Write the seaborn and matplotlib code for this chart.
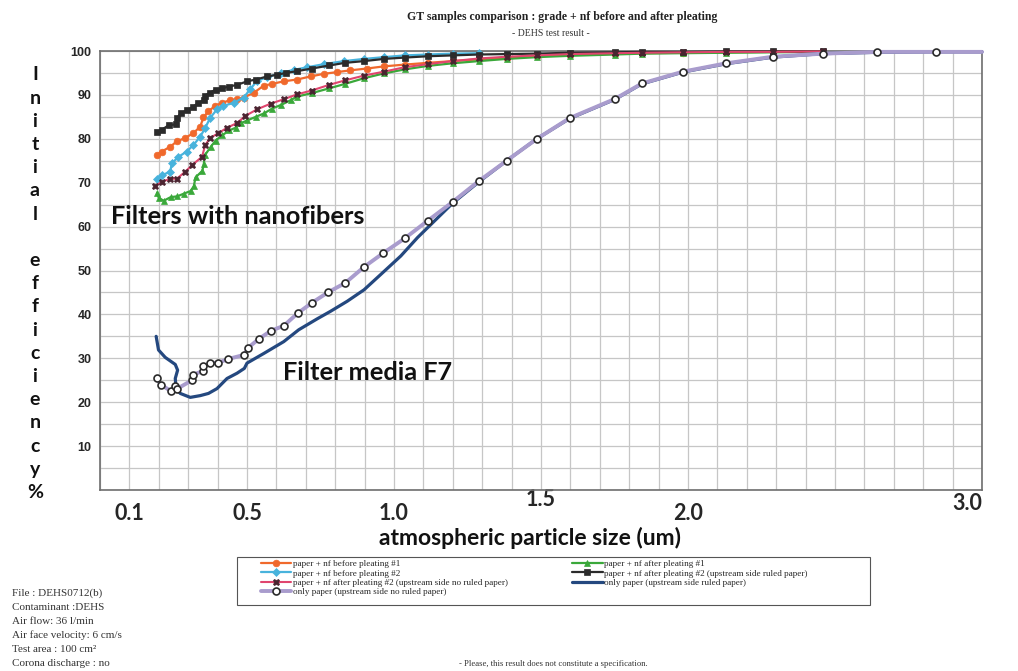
import numpy as np
import matplotlib
matplotlib.use("Agg")
import matplotlib.pyplot as plt
from matplotlib.patches import Rectangle
import seaborn as sns

# ---------------- data ----------------
size_orange = [0.193, 0.210, 0.239, 0.261, 0.290, 0.318, 0.341, 0.352, 0.369, 0.392,
               0.415, 0.443, 0.466, 0.489, 0.523, 0.557, 0.585, 0.625, 0.670, 0.716,
               0.761, 0.807, 0.852, 0.907, 0.966, 1.036, 1.114, 1.199, 1.289, 1.383,
               1.486, 1.597, 1.752, 1.843, 1.983, 2.130, 2.289, 2.460]
eff_orange = [76.3, 77.1, 78.2, 79.4, 80.2, 81.3, 82.8, 84.9, 86.3, 87.5,
              88.2, 88.8, 89.0, 89.4, 90.5, 92.1, 92.5, 93.1, 93.5, 94.2,
              94.8, 95.2, 95.6, 96.0, 96.5, 96.9, 97.3, 97.7, 98.1, 98.5,
              98.8, 99.1, 99.4, 99.5, 99.6, 99.7, 99.8, 99.8]

size_cyan = [0.193, 0.210, 0.239, 0.244, 0.267, 0.295, 0.318, 0.341, 0.358, 0.375,
             0.398, 0.420, 0.455, 0.489, 0.511, 0.534, 0.568, 0.614, 0.659, 0.705,
             0.761, 0.830, 0.898, 0.966, 1.036, 1.114, 1.199, 1.289]
eff_cyan = [70.9, 71.7, 72.5, 74.4, 75.9, 77.1, 78.6, 80.5, 82.5, 84.8,
            86.7, 87.5, 88.2, 89.4, 91.3, 93.2, 94.0, 95.0, 95.7, 96.3,
            97.0, 97.7, 98.2, 98.6, 99.0, 99.2, 99.4, 99.5]

size_pink = [0.188, 0.210, 0.239, 0.261, 0.290, 0.313, 0.347, 0.358, 0.375, 0.403,
             0.432, 0.466, 0.494, 0.534, 0.580, 0.625, 0.669, 0.720, 0.780, 0.833,
             0.898, 0.966, 1.036, 1.114, 1.199, 1.289, 1.383, 1.486, 1.597, 1.752,
             1.843, 1.983, 2.130, 2.289, 2.460]
eff_pink = [69.2, 70.2, 70.9, 70.9, 72.5, 74.0, 75.9, 78.6, 80.2, 81.3,
            82.5, 83.6, 85.2, 86.7, 88.0, 89.0, 90.1, 91.0, 92.3, 93.3,
            94.4, 95.3, 96.3, 97.0, 97.7, 98.3, 98.7, 99.0, 99.3, 99.5,
            99.6, 99.7, 99.8, 99.8, 99.9]

size_purple = [0.193, 0.207, 0.242, 0.256, 0.261, 0.313, 0.318, 0.350, 0.352, 0.375,
               0.403, 0.434, 0.491, 0.502, 0.540, 0.582, 0.625, 0.673, 0.722, 0.775,
               0.835, 0.898, 0.964, 1.036, 1.114, 1.199, 1.289, 1.383, 1.486, 1.597,
               1.752, 1.843, 1.983, 2.130, 2.289, 2.460, 2.644, 2.843, 3.000]
eff_purple = [25.4, 24.0, 22.5, 23.7, 23.0, 25.0, 26.3, 27.1, 28.2, 28.9,
              29.0, 29.8, 30.8, 32.3, 34.4, 36.3, 37.4, 40.3, 42.7, 45.0,
              47.2, 50.8, 54.0, 57.3, 61.3, 65.6, 70.4, 75.0, 80.0, 84.7,
              89.1, 92.6, 95.3, 97.2, 98.7, 99.4, 99.8, 99.8, 99.8]

size_green = [0.194, 0.200, 0.217, 0.240, 0.263, 0.285, 0.308, 0.319, 0.325, 0.348,
              0.353, 0.356, 0.376, 0.393, 0.416, 0.439, 0.461, 0.478, 0.501, 0.530,
              0.558, 0.586, 0.615, 0.649, 0.669, 0.720, 0.780, 0.833, 0.898, 0.966,
              1.036, 1.114, 1.199, 1.289, 1.383, 1.486, 1.597, 1.752, 1.843, 1.983,
              2.130, 2.289, 2.460]
eff_green = [67.7, 66.5, 65.9, 66.7, 66.9, 67.5, 68.1, 69.2, 71.2, 72.7,
             74.2, 76.2, 78.1, 79.6, 80.8, 81.9, 82.5, 83.5, 84.2, 85.0,
             85.8, 86.9, 87.7, 88.8, 89.6, 90.4, 91.5, 92.5, 93.8, 94.9,
             95.8, 96.6, 97.2, 97.7, 98.2, 98.6, 98.9, 99.2, 99.4, 99.5,
             99.6, 99.7, 99.8]

size_black = [0.194, 0.211, 0.234, 0.260, 0.263, 0.274, 0.297, 0.317, 0.333, 0.353,
              0.356, 0.374, 0.393, 0.416, 0.439, 0.467, 0.501, 0.530, 0.569, 0.603,
              0.632, 0.669, 0.720, 0.780, 0.833, 0.898, 0.966, 1.036, 1.114, 1.199,
              1.289, 1.383, 1.486, 1.597, 1.752, 1.843, 1.983, 2.130, 2.289, 2.460]
eff_black = [81.5, 82.1, 83.1, 83.3, 84.8, 85.8, 86.5, 87.3, 88.1, 88.8,
             89.8, 90.5, 91.2, 91.5, 91.9, 92.3, 93.1, 93.5, 94.2, 94.6,
             95.0, 95.4, 96.0, 96.7, 97.3, 97.7, 98.2, 98.5, 98.8, 99.0,
             99.2, 99.3, 99.4, 99.6, 99.7, 99.8, 99.8, 99.9, 99.9, 99.9]

size_blue = [0.191, 0.199, 0.222, 0.256, 0.264, 0.256, 0.259, 0.273, 0.307, 0.341,
             0.369, 0.398, 0.432, 0.466, 0.491, 0.500, 0.557, 0.625, 0.676, 0.739,
             0.784, 0.841, 0.898, 0.955, 1.023, 1.080, 1.199, 1.289, 1.383, 1.486,
             1.597, 1.752, 1.843, 1.983, 2.130, 2.289, 2.460, 2.644, 2.843, 3.000]
eff_blue = [35.0, 31.9, 30.2, 28.6, 27.3, 25.4, 23.1, 22.0, 21.1, 21.5,
            22.0, 23.1, 25.4, 26.6, 27.7, 28.9, 31.1, 33.8, 36.5, 39.0,
            40.7, 43.0, 45.6, 49.1, 53.3, 57.5, 65.3, 70.2, 75.0, 80.0,
            84.6, 89.0, 92.5, 95.2, 97.1, 98.6, 99.4, 99.7, 99.8, 99.8]

legend_labels = [
    "paper + nf before pleating #1",
    "paper + nf before pleating #2",
    "paper + nf after pleating #2 (upstream side no ruled paper)",
    "only paper (upstream side no ruled paper)",
    "paper + nf after pleating #1",
    "paper + nf after pleating #2 (upstream side ruled paper)",
    "only paper (upstream side ruled paper)",
]
x_tick_values = [0.1, 0.5, 1.0, 1.5, 2.0, 3.0]
x_tick_labels = ["0.1", "0.5", "1.0", "1.5", "2.0", "3.0"]
y_tick_values = [10, 20, 30, 40, 50, 60, 70, 80, 90, 100]
info_lines = ["File : DEHS0712(b)", "Contaminant :DEHS", "Air flow: 36 l/min",
              "Air face velocity: 6 cm/s", "Test area : 100 cm\u00b2", "Corona discharge : no"]

# ---------------- figure ----------------
sns.set_theme(style="white")
plt.rcParams['font.family'] = ['DejaVu Sans']

W, H = 1018, 671
fig = plt.figure(figsize=(W / 100, H / 100), dpi=100)
fig.patch.set_facecolor("white")
ax = fig.add_axes([100 / W, 1 - 490 / H, 882 / W, 439 / H])
ax.set_facecolor("white")


def fy(y):
    return 1 - y / H


styles = [
    # x, y, label, color, lw, marker, ms, mfc, mec, zorder
    (size_orange, eff_orange, legend_labels[0], "#f0692c", 1.6, "o", 4.8, "#f0692c", "#f0692c", 3.0),
    (size_green, eff_green, legend_labels[4], "#3aa83a", 1.6, "^", 4.8, "#3aa83a", "#3aa83a", 3.1),
    (size_cyan, eff_cyan, legend_labels[1], "#48b3dc", 1.6, "D", 3.6, "#48b3dc", "#48b3dc", 3.2),
    (size_black, eff_black, legend_labels[5], "#2b2b2b", 1.6, "s", 4.5, "#2b2b2b", "#2b2b2b", 3.3),
    (size_pink, eff_pink, legend_labels[2], "#e0456e", 1.5, "X", 4.6, "#4a2430", "#4a2430", 3.4),
    (size_blue, eff_blue, legend_labels[6], "#24487f", 2.3, None, 0, None, None, 3.5),
]
for xs, ys, lab, col, lw, mk, ms, mfc, mec, z in styles:
    kw = dict(color=col, linewidth=lw, zorder=z, label=lab, clip_on=False)
    if mk is not None:
        kw.update(marker=mk, markersize=ms, markerfacecolor=mfc,
                  markeredgecolor=mec, markeredgewidth=0.5)
    sns.lineplot(x=xs, y=ys, ax=ax, sort=False, estimator=None, **kw)

sns.lineplot(x=size_purple, y=eff_purple, ax=ax, sort=False, estimator=None,
             color="#a99ccd", linewidth=2.8, marker="o", markersize=5.0,
             markerfacecolor="white", markeredgecolor="#2a2a2a", markeredgewidth=1.2,
             markevery=list(range(len(size_purple) - 1)), zorder=3.6,
             label=legend_labels[3], clip_on=False)

ax.set_xlim(0, 3.0)
ax.set_ylim(0, 100)
ax.set_xticks(np.arange(0, 3.001, 0.1), minor=True)
ax.set_yticks(np.arange(0, 100.1, 5), minor=True)
ax.set_xticks(x_tick_values)
ax.set_xticklabels(x_tick_labels)
ax.set_yticks(y_tick_values)
ax.set_yticklabels([str(v) for v in y_tick_values])
ax.grid(True, which="both", color="#c6c6c6", linewidth=0.9)
ax.set_axisbelow(True)
ax.tick_params(which="both", length=0)
ax.tick_params(axis="y", pad=6, labelsize=9)
ax.tick_params(axis="x", pad=9, labelsize=15.5)
for lab in ax.get_yticklabels():
    lab.set_fontweight("bold")
    lab.set_family(["Liberation Sans", "DejaVu Sans"])
for lab in ax.get_xticklabels():
    lab.set_fontweight("bold")
    lab.set_family(["Lato", "DejaVu Sans"])
    if lab.get_text() == "1.5":
        lab.set_y(0.03)
    if lab.get_text() == "3.0":
        lab.set_y(0.022)
        lab.set_ha("right")
for sp in ax.spines.values():
    sp.set_color("#6e6e6e")
    sp.set_linewidth(1.2)
ax.set_xlabel("")
ax.set_ylabel("")
if ax.get_legend() is not None:
    ax.get_legend().remove()

# titles
fig.text(562 / W, fy(17), "GT samples comparison : grade + nf before and after pleating",
         ha="center", va="center", fontsize=8.5, fontweight="bold",
         family=["Liberation Serif", "DejaVu Serif"], color="#222222")
fig.text(551 / W, fy(33), "- DEHS test result -", ha="center", va="center",
         fontsize=7, family=["Liberation Serif", "DejaVu Serif"], color="#333333")

# axis labels
fig.text(530 / W, fy(538), "atmospheric particle size (um)", ha="center", va="center",
         fontsize=16.5, fontweight="bold", family=["Lato", "DejaVu Sans"], color="#111111")
ylab_letters = list("Initial") + [""] + list("efficiency") + ["%"]
for i, ch in enumerate(ylab_letters):
    if ch:
        fig.text(35 / W, fy(75 + 23.2 * i), ch, ha="center", va="center",
                 fontsize=14, fontweight="bold", family=["Lato", "DejaVu Sans"],
                 color="#111111")

# annotations
fig.text(111 / W, fy(216), "Filters with nanofibers", ha="left", va="center",
         fontsize=18.3, fontweight="bold", family=["Lato", "DejaVu Sans"], color="#111111")
fig.text(283 / W, fy(372), "Filter media F7", ha="left", va="center",
         fontsize=18.3, fontweight="bold", family=["Lato", "DejaVu Sans"], color="#111111")

# legend (frame drawn separately so the padding matches the reference)
handles, labels = ax.get_legend_handles_labels()
order = [labels.index(l) for l in legend_labels]
leg = fig.legend([handles[i] for i in order], [labels[i] for i in order],
                 loc="upper left", bbox_to_anchor=(261 / W, fy(560)),
                 ncol=2, frameon=False,
                 prop={"family": ["Liberation Serif", "DejaVu Serif"], "size": 6.6},
                 handlelength=3.3, handletextpad=0.2, columnspacing=7.0,
                 labelspacing=0.08, borderpad=0, borderaxespad=0)
fig.add_artist(Rectangle((237 / W, fy(605)), (870 - 237) / W, (605 - 557) / H,
                         transform=fig.transFigure, fill=False,
                         edgecolor="#555555", linewidth=0.8))

# info block
for i, line in enumerate(info_lines):
    fig.text(12 / W, fy(593 + 14 * i), line, ha="left", va="center", fontsize=8,
             family=["Liberation Serif", "DejaVu Serif"], color="#333333")
fig.text(553 / W, fy(664), "- Please, this result does not constitute a specification.",
         ha="center", va="center", fontsize=6.2,
         family=["Liberation Serif", "DejaVu Serif"], color="#333333")

fig.savefig("out.png", dpi=100, facecolor="white")
